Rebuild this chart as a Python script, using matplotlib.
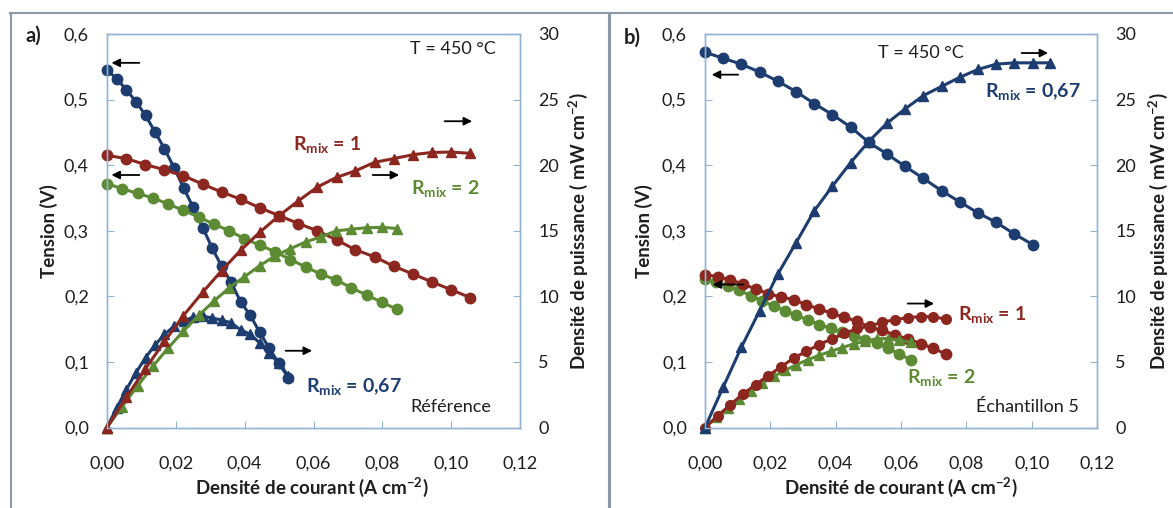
import matplotlib
matplotlib.use("Agg")
import matplotlib.pyplot as plt
from matplotlib.ticker import FuncFormatter, MultipleLocator
from matplotlib.lines import Line2D

plt.rcParams['font.family'] = ['Lato', 'DejaVu Sans']
plt.rcParams['mathtext.fontset'] = 'custom'
plt.rcParams['mathtext.rm'] = 'Lato'
plt.rcParams['mathtext.bf'] = 'Lato:bold'

# ---- data, panel a (Référence) ----
x_a_067 = [0, 0.0028, 0.0056, 0.0084, 0.0112, 0.014, 0.0167, 0.0195, 0.0223, 0.025,
           0.0279, 0.0306, 0.0333, 0.036, 0.0388, 0.0416, 0.0444, 0.0471, 0.0499, 0.0527]
v_a_067 = [0.545, 0.532, 0.515, 0.497, 0.476, 0.450, 0.425, 0.396, 0.365, 0.336,
           0.304, 0.273, 0.246, 0.222, 0.192, 0.171, 0.145, 0.121, 0.098, 0.076]
p_a_067 = [0, 1.49, 2.88, 4.17, 5.33, 6.3, 7.1, 7.72, 8.14, 8.4,
           8.48, 8.35, 8.19, 7.99, 7.45, 7.11, 6.44, 5.70, 4.89, 3.95]

x_a_1 = [0, 0.0056, 0.0111, 0.0167, 0.0222, 0.0278, 0.0333, 0.0389, 0.0444, 0.05,
         0.0556, 0.0611, 0.0667, 0.0722, 0.0778, 0.0833, 0.0889, 0.0944, 0.1, 0.1056]
v_a_1 = [0.415, 0.410, 0.401, 0.393, 0.384, 0.371, 0.359, 0.348, 0.335, 0.323,
         0.311, 0.300, 0.286, 0.271, 0.260, 0.246, 0.234, 0.222, 0.210, 0.198]
p_a_1 = [0, 2.30, 4.45, 6.56, 8.53, 10.31, 11.96, 13.53, 14.89, 16.15,
         17.28, 18.33, 19.07, 19.57, 20.22, 20.5, 20.8, 20.97, 21.0, 20.9]

x_a_2 = [0, 0.0044, 0.0089, 0.0133, 0.0177, 0.0222, 0.0266, 0.0311, 0.0355, 0.0399,
         0.0444, 0.0488, 0.0533, 0.0577, 0.0621, 0.0666, 0.071, 0.0754, 0.0799, 0.0843]
v_a_2 = [0.372, 0.364, 0.357, 0.350, 0.341, 0.331, 0.321, 0.310, 0.300, 0.288,
         0.278, 0.268, 0.256, 0.245, 0.234, 0.225, 0.213, 0.202, 0.191, 0.180]
p_a_2 = [0, 1.60, 3.18, 4.66, 6.04, 7.35, 8.54, 9.64, 10.65, 11.49,
         12.34, 13.08, 13.64, 14.14, 14.53, 14.99, 15.12, 15.23, 15.26, 15.17]

# ---- data, panel b (Échantillon 5) ----
x_b_067 = [0, 0.0056, 0.0111, 0.0167, 0.0223, 0.0279, 0.0334, 0.039, 0.0446, 0.0501,
           0.0557, 0.0613, 0.0668, 0.0724, 0.078, 0.0836, 0.0891, 0.0947, 0.1003]
v_b_067 = [0.572, 0.563, 0.554, 0.542, 0.528, 0.512, 0.494, 0.477, 0.458, 0.435,
           0.417, 0.398, 0.380, 0.361, 0.344, 0.327, 0.313, 0.295, 0.279]
xp_b_067 = [0, 0.0056, 0.0111, 0.0167, 0.0223, 0.0279, 0.0334, 0.039, 0.0446, 0.0501,
            0.0557, 0.0613, 0.0668, 0.0724, 0.078, 0.0836, 0.0891, 0.0947, 0.1003, 0.1055]
p_b_067 = [0, 3.1, 6.1, 8.9, 11.7, 14.1, 16.5, 18.4, 20.2, 21.8,
           23.2, 24.3, 25.3, 26.0, 26.7, 27.3, 27.7, 27.8, 27.8, 27.8]

x_b_1 = [0, 0.0039, 0.0078, 0.0116, 0.0155, 0.0194, 0.0233, 0.0272, 0.031, 0.0349,
         0.0388, 0.0427, 0.0466, 0.0504, 0.0543, 0.0582, 0.0621, 0.066, 0.0698, 0.0737]
v_b_1 = [0.233, 0.230, 0.225, 0.219, 0.211, 0.204, 0.199, 0.195, 0.187, 0.181,
         0.174, 0.168, 0.162, 0.153, 0.148, 0.141, 0.135, 0.128, 0.121, 0.112]
p_b_1 = [0, 0.89, 1.75, 2.55, 3.27, 3.96, 4.63, 5.30, 5.80, 6.32,
         6.75, 7.17, 7.55, 7.72, 8.04, 8.21, 8.38, 8.45, 8.45, 8.26]

x_b_2 = [0, 0.0035, 0.007, 0.0105, 0.014, 0.0175, 0.021, 0.0245, 0.028, 0.0315,
         0.035, 0.0385, 0.042, 0.0455, 0.049, 0.0525, 0.056, 0.0595, 0.063]
v_b_2 = [0.226, 0.222, 0.216, 0.209, 0.201, 0.193, 0.185, 0.178, 0.171, 0.164,
         0.157, 0.151, 0.145, 0.140, 0.134, 0.129, 0.121, 0.112, 0.103]
p_b_2 = [0, 0.78, 1.51, 2.19, 2.81, 3.38, 3.89, 4.36, 4.79, 5.17,
         5.50, 5.81, 6.09, 6.37, 6.57, 6.77, 6.78, 6.66, 6.49]

BLUE = '#1d3d70'
RED = '#8c2720'
GREEN = '#5c8b33'
SPINE = '#93b3d3'
TXT = '#1e1e1e'

fig = plt.figure(figsize=(11.73, 5.08), dpi=100)
W, H = 1173, 508


def make_axes(left_px, right_px):
    top_px, bot_px = 34, 427.5
    ax = fig.add_axes([left_px / W, 1 - bot_px / H, (right_px - left_px) / W, (bot_px - top_px) / H])
    ax2 = ax.twinx()
    ax.set_xlim(0, 0.12)
    ax.set_ylim(0, 0.6)
    ax2.set_ylim(0, 30)
    ax.xaxis.set_major_locator(MultipleLocator(0.02))
    ax.yaxis.set_major_locator(MultipleLocator(0.1))
    ax2.yaxis.set_major_locator(MultipleLocator(5))
    ax.xaxis.set_major_formatter(FuncFormatter(lambda v, p: f"{v:.2f}".replace('.', ',')))
    ax.yaxis.set_major_formatter(FuncFormatter(lambda v, p: f"{v:.1f}".replace('.', ',')))
    for a in (ax, ax2):
        for s in a.spines.values():
            s.set_color(SPINE)
            s.set_linewidth(1.0)
    ax.tick_params(axis='x', direction='in', length=5, color=SPINE, labelsize=13, labelcolor=TXT, pad=20)
    ax.tick_params(axis='y', direction='in', length=5, color=SPINE, labelsize=13, labelcolor=TXT, pad=13)
    ax2.tick_params(axis='y', direction='in', length=5, color=SPINE, labelsize=13, labelcolor=TXT, pad=13)
    ax.set_xlabel('Densité de courant (A cm$^{\\mathbf{-2}}$)', fontsize=13.5, fontweight='bold', color=TXT)
    ax.set_ylabel('Tension (V)', fontsize=13.5, fontweight='bold', color=TXT)
    ax2.set_ylabel('Densité de puissance ( mW cm$^{\\mathbf{-2}}$)', fontsize=13.5, fontweight='bold', color=TXT)
    return ax, ax2


def arrow(ax, x0, x1, y):
    ax.annotate('', xy=(x1, y), xytext=(x0, y),
                arrowprops=dict(arrowstyle='-|>', color='black', lw=1.3, mutation_scale=12))


def series(ax, ax2, x, v, xp, p, color, pmarker):
    ax.plot(x, v, color=color, lw=2.2, marker='o', ms=7.5, mec=color, mfc=color, clip_on=False)
    ax2.plot(xp, p, color=color, lw=2.2, marker=pmarker, ms=7, mec=color, mfc=color, clip_on=False)


# ---- panel a ----
ax, ax2 = make_axes(107, 520)
series(ax, ax2, x_a_067, v_a_067, x_a_067, p_a_067, BLUE, '^')
series(ax, ax2, x_a_2, v_a_2, x_a_2, p_a_2, GREEN, '^')
series(ax, ax2, x_a_1, v_a_1, x_a_1, p_a_1, RED, '^')
ax.xaxis.set_label_coords(0.496, -0.12)
ax.yaxis.set_label_coords(-0.118, 0.5)
ax2.yaxis.set_label_coords(1.112, 0.5)
ax2.set_zorder(ax.get_zorder() + 1)
ax.text(0.1005, 0.577, 'T = 450 °C', ha='center', va='center', fontsize=13, color=TXT)
ax.text(0.100, 0.031, 'Référence', ha='center', va='center', fontsize=13, color=TXT)
ax.text(0.0639, 0.431, '$\\mathbf{R_{mix}}$ = 1', ha='center', va='center', fontsize=14, fontweight='bold', color=RED)
ax.text(0.0982, 0.365, '$\\mathbf{R_{mix}}$ = 2', ha='center', va='center', fontsize=14, fontweight='bold', color=GREEN)
ax.text(0.0718, 0.062, '$\\mathbf{R_{mix}}$ = 0,67', ha='center', va='center', fontsize=14, fontweight='bold', color=BLUE)
arrow(ax2, 0.0102, 0.0005, 27.8)
arrow(ax2, 0.0102, 0.0005, 19.25)
arrow(ax2, 0.0973, 0.1069, 23.35)
arrow(ax2, 0.0764, 0.0857, 19.25)
arrow(ax2, 0.0511, 0.0604, 5.85)

# ---- panel b ----
bx, bx2 = make_axes(705, 1097)
series(bx, bx2, x_b_2, v_b_2, x_b_2, p_b_2, GREEN, '^')
series(bx, bx2, x_b_1, v_b_1, x_b_1, p_b_1, RED, 'o')
series(bx, bx2, x_b_067, v_b_067, xp_b_067, p_b_067, BLUE, '^')
bx.xaxis.set_label_coords(0.5, -0.12)
bx.yaxis.set_label_coords(-0.132, 0.5)
bx2.yaxis.set_label_coords(1.125, 0.5)
bx2.set_zorder(bx.get_zorder() + 1)
bx.text(0.0661, 0.5715, 'T = 450 °C', ha='center', va='center', fontsize=13, color=TXT)
bx.text(0.0986, 0.032, 'Échantillon 5', ha='center', va='center', fontsize=13, color=TXT)
bx.text(0.1004, 0.512, '$\\mathbf{R_{mix}}$ = 0,67', ha='center', va='center', fontsize=14, fontweight='bold', color=BLUE)
bx.text(0.0879, 0.172, '$\\mathbf{R_{mix}}$ = 1', ha='center', va='center', fontsize=14, fontweight='bold', color=RED)
bx.text(0.0722, 0.076, '$\\mathbf{R_{mix}}$ = 2', ha='center', va='center', fontsize=14, fontweight='bold', color=GREEN)
arrow(bx2, 0.011, 0.0012, 26.9)
arrow(bx2, 0.0961, 0.1059, 28.55)
arrow(bx2, 0.0126, 0.0015, 10.9)
arrow(bx2, 0.0612, 0.071, 9.45)

# panel letters and frame
fig.text(33 / W, 1 - 36 / H, 'a)', ha='center', va='center', fontsize=14.5, fontweight='bold', color=TXT)
fig.text(632 / W, 1 - 38 / H, 'b)', ha='center', va='center', fontsize=14.5, fontweight='bold', color=TXT)
frame = '#8a9aa6'
fig.add_artist(Line2D([10 / W, 1], [1 - 13 / H, 1 - 13 / H], color=frame, lw=1.5))
fig.add_artist(Line2D([11 / W, 11 / W], [0, 1 - 13 / H], color=frame, lw=1.5))
fig.add_artist(Line2D([609 / W, 609 / W], [0, 1 - 13 / H], color=frame, lw=2.2))

fig.savefig('out.png', dpi=100)
